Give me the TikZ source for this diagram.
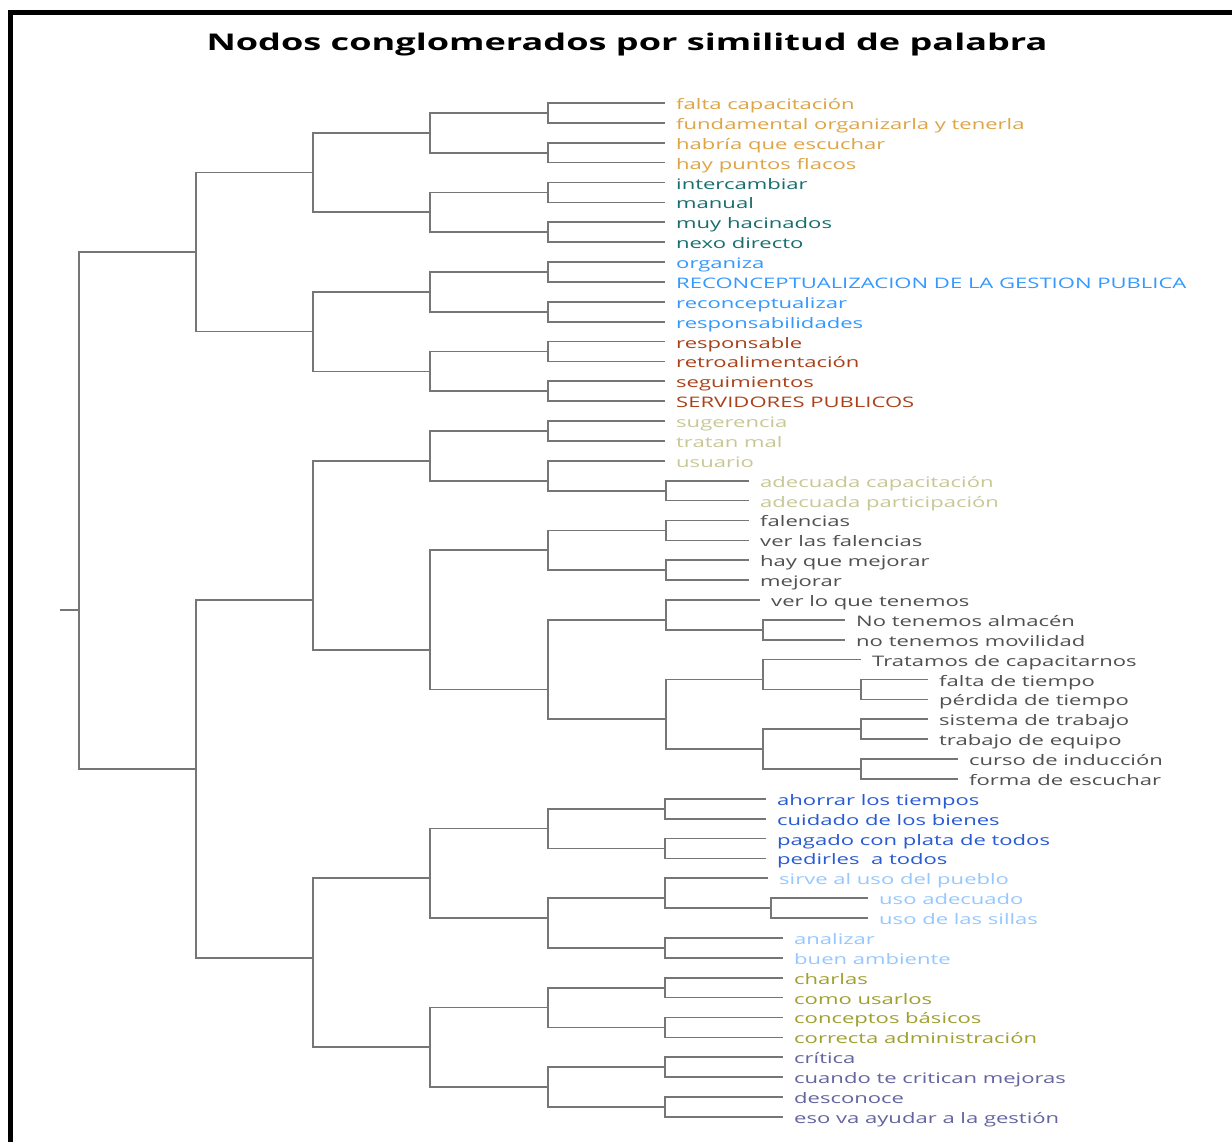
\documentclass[tikz,border=0pt]{standalone}
\usepackage{fontspec}
\newfontfamily\labfont[FakeStretch=1.52]{Open Sans}
\newfontfamily\titfont[FakeStretch=1.57]{Open Sans}
\definecolor{linegray}{RGB}{118,118,118}
\definecolor{cA}{RGB}{222,165,70}
\definecolor{cB}{RGB}{26,110,110}
\definecolor{cC}{RGB}{51,153,255}
\definecolor{cD}{RGB}{170,65,25}
\definecolor{cE}{RGB}{200,200,150}
\definecolor{cF}{RGB}{80,80,80}
\definecolor{cG}{RGB}{40,90,210}
\definecolor{cH}{RGB}{150,200,255}
\definecolor{cI}{RGB}{160,160,50}
\definecolor{cJ}{RGB}{100,100,160}
\newcommand{\lyy}[1]{103+(#1-1)*19.88}
\newcommand{\mkleaf}[4]{%
  \coordinate (e#1) at (#2,{\lyy{#1}});
  \node[lab,text=#3] (L#1) at ([xshift=11pt,yshift=-6.5pt]e#1) {#4};}
\tikzset{
  br/.style={draw=linegray, line width=1.7pt},
  lab/.style={anchor=base west, inner sep=0pt, font=\labfont\fontsize{14.5}{16}\selectfont},
  ttl/.style={anchor=base, inner sep=0pt, font=\titfont\bfseries\fontsize{23}{27}\selectfont}
}
\begin{document}
\begin{tikzpicture}[x=1pt,y=-1pt]
\fill[white] (0,0) rectangle (1232,1142);
\useasboundingbox (0,0) rectangle (1232,1142);
% frame
\fill[black] (8,10) rectangle (1232,15);
\fill[black] (8,10) rectangle (13,1142);
% title
\node[ttl] (title) at (627,51) {Nodos conglomerados por similitud de palabra};

% internal nodes
\coordinate (rootstub) at (60,{\lyy{26.5}});
\coordinate (root) at (79,{\lyy{26.5}});
\coordinate (T) at (196,{\lyy{8.5}});
\coordinate (Bt) at (196,{\lyy{34.5}});
\coordinate (T1) at (313,{\lyy{4.5}});
\coordinate (T2) at (313,{\lyy{12.5}});
\coordinate (T1a) at (430,{\lyy{2.5}});
\coordinate (T1b) at (430,{\lyy{6.5}});
\coordinate (T2a) at (430,{\lyy{10.5}});
\coordinate (T2b) at (430,{\lyy{14.5}});
\coordinate (p1) at (548,{\lyy{1.5}});
\coordinate (p3) at (548,{\lyy{3.5}});
\coordinate (p5) at (548,{\lyy{5.5}});
\coordinate (p7) at (548,{\lyy{7.5}});
\coordinate (p9) at (548,{\lyy{9.5}});
\coordinate (p11) at (548,{\lyy{11.5}});
\coordinate (p13) at (548,{\lyy{13.5}});
\coordinate (p15) at (548,{\lyy{15.5}});
\coordinate (A) at (313,{\lyy{26}});
\coordinate (B) at (313,{\lyy{44}});
\coordinate (A1) at (430,{\lyy{19}});
\coordinate (A2) at (430,{\lyy{28.5}});
\coordinate (A1a) at (548,{\lyy{17.5}});
\coordinate (A1b) at (548,{\lyy{20}});
\coordinate (A1c) at (666,{\lyy{20.5}});
\coordinate (A2a) at (548,{\lyy{23.5}});
\coordinate (p22) at (666,{\lyy{22.5}});
\coordinate (p24) at (666,{\lyy{24.5}});
\coordinate (A2b) at (548,{\lyy{30.5}});
\coordinate (A2b1) at (666,{\lyy{27}});
\coordinate (p27) at (763,{\lyy{27.5}});
\coordinate (A2b2) at (666,{\lyy{32}});
\coordinate (C1) at (763,{\lyy{30}});
\coordinate (p30) at (861,{\lyy{30.5}});
\coordinate (C2) at (763,{\lyy{33.5}});
\coordinate (p32) at (861,{\lyy{32.5}});
\coordinate (p34) at (861,{\lyy{34.5}});
\coordinate (B1) at (430,{\lyy{40}});
\coordinate (B2) at (430,{\lyy{48.5}});
\coordinate (B1a) at (548,{\lyy{37.5}});
\coordinate (p36) at (665,{\lyy{36.5}});
\coordinate (p38) at (665,{\lyy{38.5}});
\coordinate (B1b) at (548,{\lyy{42}});
\coordinate (B1b1) at (665,{\lyy{41}});
\coordinate (p41) at (771,{\lyy{41.5}});
\coordinate (p43) at (665,{\lyy{43.5}});
\coordinate (B2a) at (548,{\lyy{46.5}});
\coordinate (p45) at (665,{\lyy{45.5}});
\coordinate (p47) at (665,{\lyy{47.5}});
\coordinate (B2b) at (548,{\lyy{50.5}});
\coordinate (p49) at (665,{\lyy{49.5}});
\coordinate (p51) at (665,{\lyy{51.5}});

% leaves
\mkleaf{1}{665}{cA}{falta capacitación}
\mkleaf{2}{665}{cA}{fundamental organizarla y tenerla}
\mkleaf{3}{665}{cA}{habría que escuchar}
\mkleaf{4}{665}{cA}{hay puntos flacos}
\mkleaf{5}{665}{cB}{intercambiar}
\mkleaf{6}{665}{cB}{manual}
\mkleaf{7}{665}{cB}{muy hacinados}
\mkleaf{8}{665}{cB}{nexo directo}
\mkleaf{9}{665}{cC}{organiza}
\mkleaf{10}{665}{cC}{RECONCEPTUALIZACION DE LA GESTION PUBLICA}
\mkleaf{11}{665}{cC}{reconceptualizar}
\mkleaf{12}{665}{cC}{responsabilidades}
\mkleaf{13}{665}{cD}{responsable}
\mkleaf{14}{665}{cD}{retroalimentación}
\mkleaf{15}{665}{cD}{seguimientos}
\mkleaf{16}{665}{cD}{SERVIDORES PUBLICOS}
\mkleaf{17}{665}{cE}{sugerencia}
\mkleaf{18}{665}{cE}{tratan mal}
\mkleaf{19}{665}{cE}{usuario}
\mkleaf{20}{749}{cE}{adecuada capacitación}
\mkleaf{21}{749}{cE}{adecuada participación}
\mkleaf{22}{749}{cF}{falencias}
\mkleaf{23}{749}{cF}{ver las falencias}
\mkleaf{24}{749}{cF}{hay que mejorar}
\mkleaf{25}{749}{cF}{mejorar}
\mkleaf{26}{760}{cF}{ver lo que tenemos}
\mkleaf{27}{845}{cF}{No tenemos almacén}
\mkleaf{28}{845}{cF}{no tenemos movilidad}
\mkleaf{29}{861}{cF}{Tratamos de capacitarnos}
\mkleaf{30}{928}{cF}{falta de tiempo}
\mkleaf{31}{928}{cF}{pérdida de tiempo}
\mkleaf{32}{928}{cF}{sistema de trabajo}
\mkleaf{33}{928}{cF}{trabajo de equipo}
\mkleaf{34}{958}{cF}{curso de inducción}
\mkleaf{35}{958}{cF}{forma de escuchar}
\mkleaf{36}{766}{cG}{ahorrar los tiempos}
\mkleaf{37}{766}{cG}{cuidado de los bienes}
\mkleaf{38}{766}{cG}{pagado con plata de todos}
\mkleaf{39}{766}{cG}{pedirles\ \ a todos}
\mkleaf{40}{768}{cH}{sirve al uso del pueblo}
\mkleaf{41}{868}{cH}{uso adecuado}
\mkleaf{42}{868}{cH}{uso de las sillas}
\mkleaf{43}{783}{cH}{analizar}
\mkleaf{44}{783}{cH}{buen ambiente}
\mkleaf{45}{783}{cI}{charlas}
\mkleaf{46}{783}{cI}{como usarlos}
\mkleaf{47}{783}{cI}{conceptos básicos}
\mkleaf{48}{783}{cI}{correcta administración}
\mkleaf{49}{783}{cJ}{crítica}
\mkleaf{50}{783}{cJ}{cuando te critican mejoras}
\mkleaf{51}{783}{cJ}{desconoce}
\mkleaf{52}{783}{cJ}{eso va ayudar a la gestión}

% connectors
\draw[br] (rootstub) -- (root);
\draw[br] (root) |- (T);  \draw[br] (root) |- (Bt);
\draw[br] (T) |- (T1);    \draw[br] (T) |- (T2);
\draw[br] (T1) |- (T1a);  \draw[br] (T1) |- (T1b);
\draw[br] (T2) |- (T2a);  \draw[br] (T2) |- (T2b);
\draw[br] (T1a) |- (p1);  \draw[br] (T1a) |- (p3);
\draw[br] (T1b) |- (p5);  \draw[br] (T1b) |- (p7);
\draw[br] (T2a) |- (p9);  \draw[br] (T2a) |- (p11);
\draw[br] (T2b) |- (p13); \draw[br] (T2b) |- (p15);
\draw[br] (p1) |- (e1);   \draw[br] (p1) |- (e2);
\draw[br] (p3) |- (e3);   \draw[br] (p3) |- (e4);
\draw[br] (p5) |- (e5);   \draw[br] (p5) |- (e6);
\draw[br] (p7) |- (e7);   \draw[br] (p7) |- (e8);
\draw[br] (p9) |- (e9);   \draw[br] (p9) |- (e10);
\draw[br] (p11) |- (e11); \draw[br] (p11) |- (e12);
\draw[br] (p13) |- (e13); \draw[br] (p13) |- (e14);
\draw[br] (p15) |- (e15); \draw[br] (p15) |- (e16);
\draw[br] (Bt) |- (A);    \draw[br] (Bt) |- (B);
\draw[br] (A) |- (A1);    \draw[br] (A) |- (A2);
\draw[br] (A1) |- (A1a);  \draw[br] (A1) |- (A1b);
\draw[br] (A1a) |- (e17); \draw[br] (A1a) |- (e18);
\draw[br] (A1b) |- (e19); \draw[br] (A1b) |- (A1c);
\draw[br] (A1c) |- (e20); \draw[br] (A1c) |- (e21);
\draw[br] (A2) |- (A2a);  \draw[br] (A2) |- (A2b);
\draw[br] (A2a) |- (p22); \draw[br] (A2a) |- (p24);
\draw[br] (p22) |- (e22); \draw[br] (p22) |- (e23);
\draw[br] (p24) |- (e24); \draw[br] (p24) |- (e25);
\draw[br] (A2b) |- (A2b1); \draw[br] (A2b) |- (A2b2);
\draw[br] (A2b1) |- (e26); \draw[br] (A2b1) |- (p27);
\draw[br] (p27) |- (e27); \draw[br] (p27) |- (e28);
\draw[br] (A2b2) |- (C1); \draw[br] (A2b2) |- (C2);
\draw[br] (C1) |- (e29);  \draw[br] (C1) |- (p30);
\draw[br] (p30) |- (e30); \draw[br] (p30) |- (e31);
\draw[br] (C2) |- (p32);  \draw[br] (C2) |- (p34);
\draw[br] (p32) |- (e32); \draw[br] (p32) |- (e33);
\draw[br] (p34) |- (e34); \draw[br] (p34) |- (e35);
\draw[br] (B) |- (B1);    \draw[br] (B) |- (B2);
\draw[br] (B1) |- (B1a);  \draw[br] (B1) |- (B1b);
\draw[br] (B1a) |- (p36); \draw[br] (B1a) |- (p38);
\draw[br] (p36) |- (e36); \draw[br] (p36) |- (e37);
\draw[br] (p38) |- (e38); \draw[br] (p38) |- (e39);
\draw[br] (B1b) |- (B1b1); \draw[br] (B1b) |- (p43);
\draw[br] (B1b1) |- (e40); \draw[br] (B1b1) |- (p41);
\draw[br] (p41) |- (e41); \draw[br] (p41) |- (e42);
\draw[br] (p43) |- (e43); \draw[br] (p43) |- (e44);
\draw[br] (B2) |- (B2a);  \draw[br] (B2) |- (B2b);
\draw[br] (B2a) |- (p45); \draw[br] (B2a) |- (p47);
\draw[br] (p45) |- (e45); \draw[br] (p45) |- (e46);
\draw[br] (p47) |- (e47); \draw[br] (p47) |- (e48);
\draw[br] (B2b) |- (p49); \draw[br] (B2b) |- (p51);
\draw[br] (p49) |- (e49); \draw[br] (p49) |- (e50);
\draw[br] (p51) |- (e51); \draw[br] (p51) |- (e52);
\end{tikzpicture}
\end{document}
